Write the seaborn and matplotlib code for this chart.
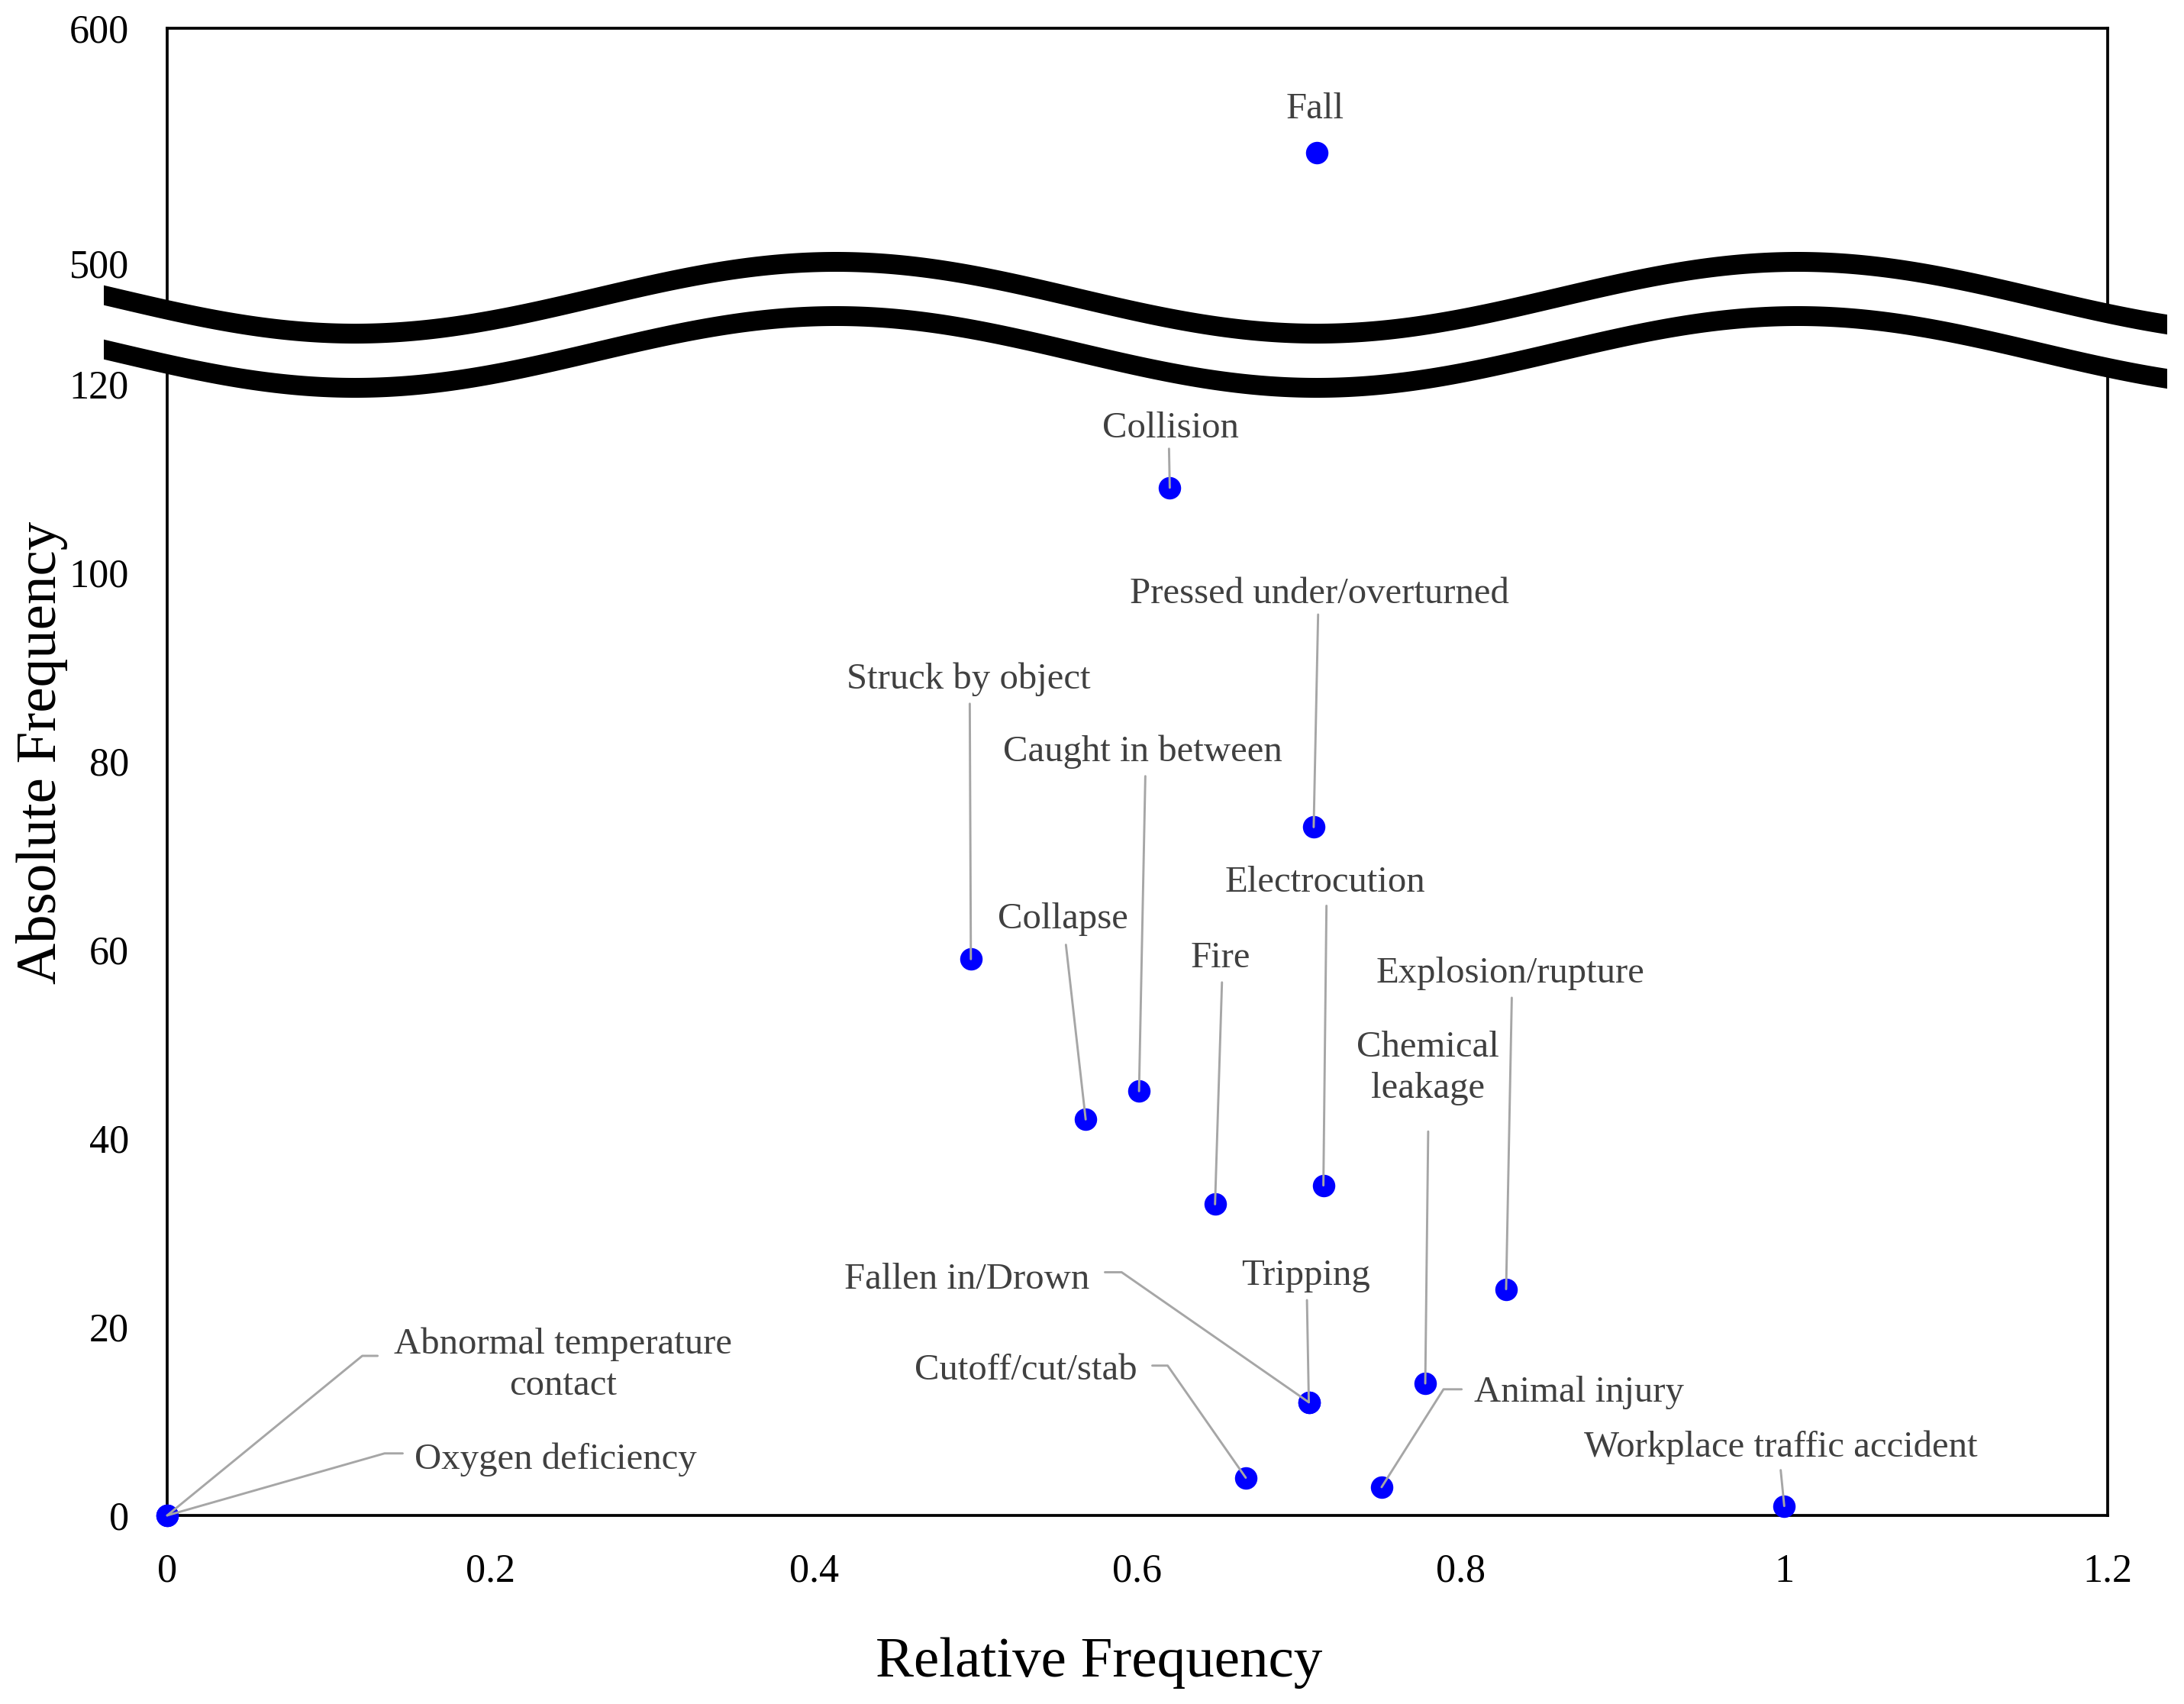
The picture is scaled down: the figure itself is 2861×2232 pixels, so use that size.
import numpy as np
import pandas as pd
import matplotlib
matplotlib.use("Agg")
import matplotlib.pyplot as plt
import seaborn as sns
from matplotlib.lines import Line2D
from matplotlib.patches import Polygon

# ---------------- data ----------------
categories = ["Fall", "Collision", "Pressed under/overturned", "Struck by object",
              "Caught in between", "Collapse", "Fire", "Electrocution",
              "Explosion/rupture", "Chemical leakage", "Tripping", "Fallen in/Drown",
              "Cutoff/cut/stab", "Animal injury", "Workplace traffic accident",
              "Abnormal temperature contact", "Oxygen deficiency"]
relative_freq = [0.711, 0.620, 0.709, 0.497, 0.601, 0.568, 0.648, 0.715,
                 0.828, 0.778, 0.706, 0.706, 0.667, 0.751, 1.000, 0.0, 0.0]
absolute_freq = [547, 109, 73, 59, 45, 42, 33, 35, 24, 14, 12, 12, 4, 3, 1, 0, 0]

x_ticks = [0, 0.2, 0.4, 0.6, 0.8, 1.0, 1.2]
x_tick_labels = ["0", "0.2", "0.4", "0.6", "0.8", "1", "1.2"]
y_ticks = [0, 20, 40, 60, 80, 100, 120, 500, 600]
y_tick_labels = ["0", "20", "40", "60", "80", "100", "120", "500", "600"]

display_text = {"Chemical leakage": "Chemical\nleakage",
                "Abnormal temperature contact": "Abnormal temperature\ncontact"}

# ---------------- layout (reference pixels, 1568-wide scale) ----------------
W, H = 2862, 2232
S = W / 1568.0
label_xy = {
    "Fall": (944, 76), "Collision": (840, 305), "Pressed under/overturned": (947, 424),
    "Struck by object": (695, 485), "Caught in between": (820, 537),
    "Collapse": (763, 657), "Fire": (876, 685), "Electrocution": (951, 631),
    "Explosion/rupture": (1084, 696), "Chemical leakage": (1025, 764),
    "Tripping": (937, 913), "Fallen in/Drown": (694, 916),
    "Cutoff/cut/stab": (736, 981), "Animal injury": (1133, 997),
    "Workplace traffic accident": (1278, 1036),
    "Abnormal temperature contact": (404, 977), "Oxygen deficiency": (399, 1045),
}
label_dy = 2.5  # visual centring correction
leader_path = {
    "Collision": [(839, 322)], "Pressed under/overturned": [(946, 441)],
    "Struck by object": [(696, 505)], "Caught in between": [(822, 557)],
    "Collapse": [(765, 678)], "Fire": [(877, 705)], "Electrocution": [(952, 650)],
    "Explosion/rupture": [(1085, 716)], "Chemical leakage": [(1025, 812)],
    "Tripping": [(938, 933)], "Fallen in/Drown": [(793, 913), (805, 913)],
    "Cutoff/cut/stab": [(827, 980), (838, 980)], "Animal injury": [(1049, 997), (1036, 997)],
    "Workplace traffic accident": [(1278, 1055)],
    "Abnormal temperature contact": [(271, 973), (260, 973)],
    "Oxygen deficiency": [(289, 1043), (276, 1043)],
}

# ---------------- broken y scale ----------------
GAP = 12.79      # lower-axis units used by the 120..500 gap
K = 0.2494       # compression above 500


def fwd(y):
    y = np.asarray(y, dtype=float)
    return np.where(y <= 120, y,
                    np.where(y <= 500, 120 + (y - 120) * GAP / 380.0,
                             120 + GAP + (y - 500) * K))


def inv(v):
    v = np.asarray(v, dtype=float)
    return np.where(v <= 120, v,
                    np.where(v <= 120 + GAP, 120 + (v - 120) * 380.0 / GAP,
                             500 + (v - 120 - GAP) / K))


sns.set_theme(style="white")
plt.rcParams["font.family"] = ["Liberation Serif", "DejaVu Serif"]

fig = plt.figure(figsize=(W / 300, H / 300), dpi=300)
ax = fig.add_axes([219 / W, 1 - 1985 / H, (2761 - 219) / W, (1985 - 37) / H])

df = pd.DataFrame({"rel": relative_freq, "abs": absolute_freq, "cat": categories})
sns.scatterplot(data=df, x="rel", y="abs", ax=ax, color="#0000FF", s=50,
                linewidth=0, zorder=5, clip_on=False, legend=False)

ax.set_yscale("function", functions=(fwd, inv))
ax.set_xlim(0, 1.2)
ax.set_ylim(0, 600)
ax.set_xticks(x_ticks)
ax.set_xticklabels(x_tick_labels)
ax.set_yticks(y_ticks)
ax.set_yticklabels(y_tick_labels)
ax.minorticks_off()
ax.tick_params(length=0, pad=12, labelsize=12.5, colors="black")
for sp in ax.spines.values():
    sp.set_visible(True)
    sp.set_color("black")
    sp.set_linewidth(0.9)
ax.grid(False)

ax.set_xlabel("Relative Frequency", fontsize=18, color="black")
ax.xaxis.label.set_va("center")
ax.xaxis.set_label_coords((1440 - 219) / 2542, (1985 - 2178) / 1948)
ax.set_ylabel("Absolute Frequency", fontsize=18, color="black")
ax.yaxis.label.set_va("center")
ax.yaxis.label.set_ha("center")
ax.yaxis.set_label_coords((55 - 219) / 2542, (1985 - 986) / 1948)


def px2fig(x, y):
    return x / W, 1 - y / H


# ---------------- labels & leaders ----------------
to_fig = fig.transFigure.inverted()
for cat, xr, yr in zip(categories, relative_freq, absolute_freq):
    tx, ty = label_xy[cat]
    fx, fy = px2fig(tx * S, (ty + label_dy) * S)
    fig.text(fx, fy, display_text.get(cat, cat), ha="center", va="center",
             multialignment="center", fontsize=11.7, color="#404040",
             linespacing=1.3, zorder=8)
    if cat in leader_path:
        pts = [px2fig(px * S, py * S) for px, py in leader_path[cat]]
        dx, dy = to_fig.transform(ax.transData.transform((xr, yr)))
        pts.append((dx, dy))
        xs_, ys_ = zip(*pts)
        fig.add_artist(Line2D(xs_, ys_, transform=fig.transFigure,
                              color="#a6a6a6", lw=0.7, zorder=7))

# ---------------- axis-break wave ----------------
wx = np.linspace(136, 2839, 900)
phase = 2 * np.pi * (wx - 465) / 1260.0
upper = 390 + 47 * np.cos(phase)
lower = 461 + 47 * np.cos(phase)
half = 13


def band(top, bottom, color, z):
    xs_f = np.r_[wx, wx[::-1]] / W
    ys_f = 1 - np.r_[top, bottom[::-1]] / H
    fig.add_artist(Polygon(np.column_stack([xs_f, ys_f]), closed=True,
                           transform=fig.transFigure, facecolor=color,
                           edgecolor="none", zorder=z))


band(upper, lower, "white", 10)
band(upper - half, upper + half, "black", 11)
band(lower - half, lower + half, "black", 11)

fig.savefig("out.png", dpi=300, facecolor="white")
